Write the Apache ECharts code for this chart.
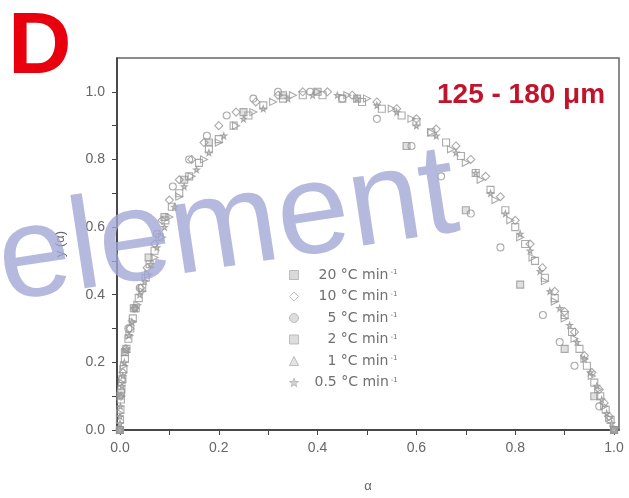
<!DOCTYPE html>
<html>
<head>
<meta charset="utf-8">
<script src="https://cdn.jsdelivr.net/npm/echarts@6/dist/echarts.min.js"></script>
<style>html,body{margin:0;padding:0;background:#fff;}#c{width:629px;height:498px;}</style>
</head>
<body>
<div id="c"></div>
<script>
const seriesNames = ['20', '10', '5', '2', '1', '0.5'];
const xTickLabels = [0, 0.2, 0.4, 0.6, 0.8, 1.0];
const xMinorTicks = [0, 0.1, 0.2, 0.3, 0.4, 0.5, 0.6, 0.7, 0.8, 0.9, 1.0];
const yTickLabels = [0, 0.2, 0.4, 0.6, 0.8, 1.0];
const yMinorTicks = [0, 0.1, 0.2, 0.3, 0.4, 0.5, 0.6, 0.7, 0.8, 0.9, 1.0];

const s20 = [[0,0],[0.002,0.11],[0.01,0.23],[0.028,0.36],[0.058,0.51],[0.09,0.63],[0.13,0.74],[0.18,0.85],[0.25,0.94],[0.33,0.99],[0.4,1.0],[0.48,0.98],[0.58,0.84],[0.7,0.65],[0.81,0.43],[0.9,0.24],[0.96,0.1],[1,0]];
const s10 = [[0,0],[0.002,0.1],[0.006,0.17],[0.012,0.24],[0.02,0.3],[0.03,0.36],[0.042,0.42],[0.055,0.48],[0.07,0.55],[0.085,0.62],[0.1,0.68],[0.12,0.74],[0.145,0.8],[0.17,0.85],[0.2,0.9],[0.235,0.94],[0.275,0.97],[0.32,0.99],[0.37,1.0],[0.42,1.0],[0.47,0.99],[0.52,0.97],[0.56,0.95],[0.6,0.92],[0.64,0.89],[0.68,0.84],[0.71,0.8],[0.74,0.75],[0.77,0.69],[0.8,0.62],[0.83,0.55],[0.855,0.48],[0.88,0.41],[0.9,0.35],[0.92,0.29],[0.94,0.22],[0.955,0.17],[0.97,0.12],[0.98,0.08],[0.99,0.04],[1,0]];
const s5 = [[0,0],[0.004,0.15],[0.017,0.3],[0.04,0.42],[0.075,0.58],[0.107,0.72],[0.14,0.8],[0.176,0.87],[0.216,0.93],[0.27,0.98],[0.32,1.0],[0.385,1.0],[0.45,0.98],[0.52,0.92],[0.59,0.84],[0.65,0.75],[0.71,0.64],[0.77,0.54],[0.856,0.34],[0.89,0.26],[0.92,0.19],[0.97,0.07],[1,0]];
const s2 = [[0,0],[0,0.03],[0.001,0.06],[0.002,0.09],[0.003,0.12],[0.005,0.15],[0.007,0.18],[0.01,0.21],[0.013,0.24],[0.017,0.27],[0.021,0.3],[0.026,0.33],[0.032,0.36],[0.038,0.39],[0.045,0.42],[0.052,0.45],[0.06,0.49],[0.07,0.53],[0.08,0.57],[0.092,0.62],[0.105,0.66],[0.12,0.7],[0.14,0.75],[0.16,0.79],[0.18,0.83],[0.2,0.86],[0.23,0.9],[0.26,0.93],[0.29,0.96],[0.33,0.98],[0.37,0.99],[0.41,0.99],[0.45,0.98],[0.49,0.97],[0.53,0.95],[0.57,0.93],[0.6,0.91],[0.63,0.88],[0.66,0.85],[0.69,0.81],[0.72,0.76],[0.75,0.71],[0.78,0.65],[0.8,0.6],[0.82,0.55],[0.84,0.5],[0.86,0.45],[0.88,0.39],[0.9,0.34],[0.915,0.29],[0.93,0.24],[0.945,0.19],[0.96,0.14],[0.972,0.1],[0.983,0.06],[0.993,0.03],[1,0]];
const s1 = [[0,0],[0,0.05],[0.001,0.1],[0.004,0.14],[0.008,0.19],[0.013,0.23],[0.019,0.28],[0.026,0.32],[0.035,0.37],[0.045,0.41],[0.057,0.46],[0.07,0.51],[0.085,0.57],[0.1,0.63],[0.12,0.69],[0.145,0.75],[0.17,0.8],[0.2,0.85],[0.235,0.9],[0.27,0.94],[0.31,0.97],[0.35,0.99],[0.4,1.0],[0.46,0.99],[0.5,0.98],[0.55,0.95],[0.59,0.92],[0.63,0.88],[0.67,0.83],[0.7,0.79],[0.73,0.74],[0.76,0.68],[0.79,0.62],[0.81,0.57],[0.835,0.51],[0.86,0.44],[0.88,0.38],[0.9,0.33],[0.92,0.27],[0.94,0.21],[0.955,0.16],[0.968,0.12],[0.98,0.07],[0.99,0.035],[1,0]];
const s05 = [[0,0],[0,0.02],[0,0.04],[0.001,0.07],[0.002,0.1],[0.004,0.13],[0.006,0.16],[0.009,0.2],[0.013,0.24],[0.018,0.28],[0.024,0.32],[0.031,0.36],[0.04,0.4],[0.05,0.44],[0.062,0.49],[0.075,0.54],[0.09,0.6],[0.11,0.66],[0.13,0.72],[0.155,0.77],[0.18,0.82],[0.21,0.87],[0.25,0.92],[0.29,0.95],[0.34,0.98],[0.39,0.99],[0.44,0.99],[0.48,0.98],[0.52,0.96],[0.56,0.94],[0.6,0.9],[0.64,0.87],[0.68,0.82],[0.72,0.76],[0.75,0.7],[0.78,0.64],[0.81,0.58],[0.83,0.53],[0.85,0.47],[0.87,0.41],[0.89,0.36],[0.91,0.31],[0.925,0.26],[0.94,0.21],[0.952,0.17],[0.965,0.13],[0.975,0.09],[0.985,0.05],[0.995,0.02],[1,0]];

const seriesData = [s20, s10, s5, s2, s1, s05];
const symbols = ['rect', 'diamond', 'circle', 'rect', 'triangle',
  'path://M0,-5L1.2,-1.6L4.8,-1.5L1.9,0.6L2.9,4L0,2L-2.9,4L-1.9,0.6L-4.8,-1.5L-1.2,-1.6Z'];
const rotations = [0, 0, 0, 0, -90, 0];
const sizes = [7, 8, 7, 7, 7, 6];
const fills = ['#d8d8d8', 'rgba(255,255,255,0)', 'rgba(255,255,255,0)', 'rgba(255,255,255,0)', 'rgba(255,255,255,0)', '#c4c4c4'];
const legendFills = ['#cfcfcf', 'rgba(255,255,255,0)', '#d4d4d4', '#d4d4d4', '#dddddd', '#c8c8c8'];

const chart = echarts.init(document.getElementById('c'), null, {renderer: 'canvas'});
const series = seriesNames.map((n, i) => ({
  name: n,
  type: 'scatter',
  data: seriesData[i],
  symbol: symbols[i],
  symbolRotate: rotations[i],
  symbolSize: sizes[i],
  itemStyle: {color: fills[i], borderColor: '#969696', borderWidth: 1.1},
  z: 2
}));

const txt = {fontSize: 14, lineHeight: 12, color: '#707070', fontFamily: 'DejaVu Sans'};
chart.setOption({
  animation: false,
  backgroundColor: '#fff',
  grid: {left: 117, right: 10, top: 58, bottom: 66, show: true, borderColor: '#666', borderWidth: 1.5},
  legend: {
    orient: 'vertical', left: 284, top: 263, itemWidth: 9, itemHeight: 9, itemGap: 7.5,
    selectedMode: false,
    data: seriesNames.map((n, i) => ({name: n, itemStyle: {color: legendFills[i], borderColor: '#b0b0b0', borderWidth: 1}})),
    formatter: n => '{' + (n.length === 1 ? 'n1' : n.length === 2 ? 'n2' : 'n3') + '|' + n + '}{b| °C min}{s|-1}',
    textStyle: Object.assign({}, txt, {
      rich: {
        n1: Object.assign({}, txt, {padding: [0, 0, 0, 24]}),
        n2: Object.assign({}, txt, {padding: [0, 0, 0, 15]}),
        n3: Object.assign({}, txt, {padding: [0, 0, 0, 11]}),
        b: txt,
        s: {fontSize: 7, lineHeight: 12, verticalAlign: 'top', color: '#707070', padding: [0, 0, 0, 2]}
      }
    })
  },
  xAxis: {
    type: 'value', min: -0.006, max: 1.01,
    name: 'α', nameLocation: 'middle', nameGap: 50,
    nameTextStyle: {color: '#666', fontSize: 13, fontFamily: 'Liberation Sans'},
    axisLine: {show: true, onZero: false, lineStyle: {color: '#333', width: 1.5}},
    axisTick: {show: true, inside: false, length: 5, customValues: xMinorTicks, lineStyle: {color: '#444'}},
    axisLabel: {customValues: xTickLabels, formatter: v => v.toFixed(1), color: '#666', fontSize: 14, margin: 11, fontFamily: 'Liberation Sans'},
    splitLine: {show: false}
  },
  yAxis: {
    type: 'value', min: 0, max: 1.1,
    name: 'y (α)', nameLocation: 'middle', nameGap: 50,
    nameTextStyle: {color: '#666', fontSize: 13, fontFamily: 'Liberation Sans'},
    axisLine: {show: true, onZero: false, lineStyle: {color: '#333', width: 1.5}},
    axisTick: {show: true, inside: false, length: 5, customValues: yMinorTicks, lineStyle: {color: '#444'}},
    axisLabel: {customValues: yTickLabels, formatter: v => v.toFixed(1), color: '#666', fontSize: 14, margin: 12, fontFamily: 'Liberation Sans'},
    splitLine: {show: false}
  },
  graphic: [
    {type: 'text', left: 8, top: 5, z: 10, style: {text: 'D', fill: '#e8000f', font: 'bold 88px "Liberation Sans", Arial, sans-serif'}},
    {type: 'text', left: 437, top: 81, z: 10, style: {text: '125 - 180 μm', fill: '#c0142c', font: 'bold 28px "Liberation Sans", Arial, sans-serif'}},
    {type: 'text', x: -1, y: 265, rotation: 0.152, z: 20, silent: true,
      style: {text: 'element', x: 0, y: 0, textAlign: 'left', textVerticalAlign: 'middle', fill: 'rgba(160,165,212,0.78)', font: '130px "Liberation Sans", Arial, sans-serif'}}
  ],
  series: series
});
</script>
</body>
</html>
